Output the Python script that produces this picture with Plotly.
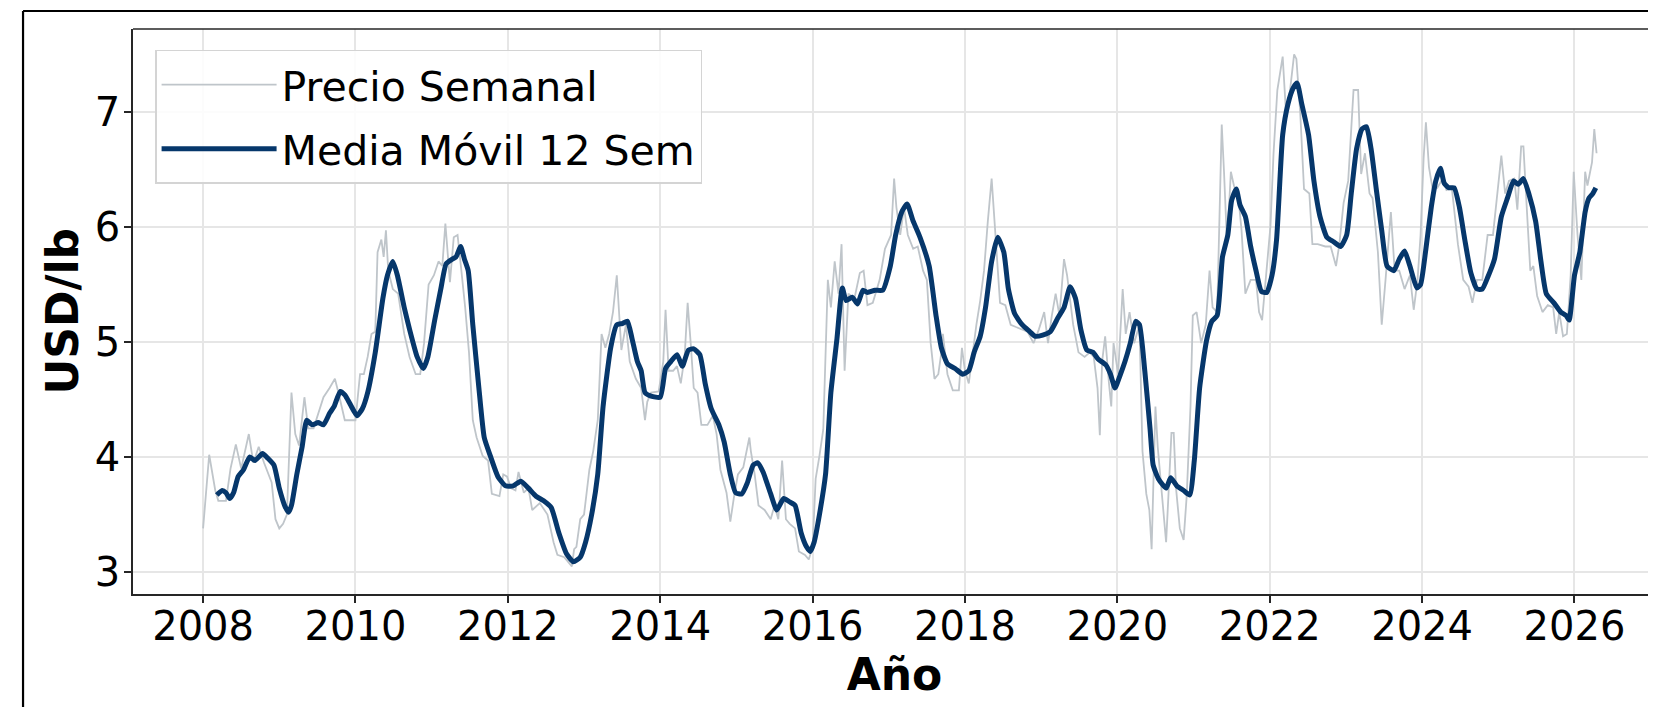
import plotly.graph_objects as go

# Weekly price (USD/lb), x in decimal years
price_year = [2008.00, 2008.08, 2008.16, 2008.20, 2008.30, 2008.36, 2008.43, 2008.50, 2008.60, 2008.66,
              2008.73, 2008.80, 2008.90, 2008.95, 2009.00, 2009.05, 2009.10, 2009.16, 2009.21, 2009.26,
              2009.33, 2009.38, 2009.45, 2009.58, 2009.66, 2009.73, 2009.78, 2009.86, 2010.00, 2010.06,
              2010.11, 2010.16, 2010.21, 2010.26, 2010.29, 2010.34, 2010.37, 2010.40, 2010.43, 2010.49,
              2010.56, 2010.64, 2010.71, 2010.79, 2010.85, 2010.90, 2010.96, 2011.03, 2011.09, 2011.14,
              2011.18, 2011.21, 2011.24, 2011.29, 2011.34, 2011.39, 2011.44, 2011.49, 2011.54, 2011.59,
              2011.67, 2011.74, 2011.79, 2011.89, 2011.94, 2011.99, 2012.04, 2012.10, 2012.14, 2012.21,
              2012.27, 2012.32, 2012.42, 2012.52, 2012.60, 2012.65, 2012.74, 2012.84, 2012.87, 2012.90,
              2012.95, 2013.00, 2013.07, 2013.12, 2013.18, 2013.23, 2013.28, 2013.33, 2013.38, 2013.43,
              2013.46, 2013.49, 2013.55, 2013.60, 2013.68, 2013.75, 2013.80, 2013.83, 2013.88, 2013.98,
              2014.04, 2014.07, 2014.11, 2014.17, 2014.22, 2014.27, 2014.32, 2014.36, 2014.40, 2014.44,
              2014.49, 2014.54, 2014.62, 2014.69, 2014.74, 2014.79, 2014.87, 2014.92, 2014.97, 2015.02,
              2015.09, 2015.17, 2015.19, 2015.24, 2015.29, 2015.37, 2015.45, 2015.50, 2015.55, 2015.60,
              2015.65, 2015.70, 2015.77, 2015.82, 2015.90, 2015.95, 2016.00, 2016.04, 2016.09, 2016.14,
              2016.20, 2016.24, 2016.29, 2016.34, 2016.38, 2016.42, 2016.47, 2016.55, 2016.62, 2016.67,
              2016.72, 2016.79, 2016.88, 2016.95, 2017.03, 2017.07, 2017.10, 2017.15, 2017.20, 2017.25,
              2017.32, 2017.38, 2017.45, 2017.50, 2017.55, 2017.60, 2017.65, 2017.69, 2017.71, 2017.77,
              2017.84, 2017.92, 2017.96, 2018.00, 2018.05, 2018.10, 2018.15, 2018.20, 2018.25, 2018.30,
              2018.35, 2018.40, 2018.46, 2018.53, 2018.60, 2018.67, 2018.75, 2018.82, 2018.90, 2018.97,
              2019.04, 2019.09, 2019.14, 2019.19, 2019.24, 2019.30, 2019.34, 2019.42, 2019.49, 2019.57,
              2019.64, 2019.69, 2019.74, 2019.77, 2019.80, 2019.84, 2019.89, 2019.92, 2019.95, 2020.01,
              2020.07, 2020.11, 2020.16, 2020.22, 2020.29, 2020.33, 2020.38, 2020.42, 2020.45, 2020.50,
              2020.53, 2020.58, 2020.64, 2020.67, 2020.71, 2020.74, 2020.77, 2020.82, 2020.87, 2020.91,
              2020.96, 2020.99, 2021.04, 2021.10, 2021.16, 2021.21, 2021.25, 2021.31, 2021.37, 2021.40,
              2021.44, 2021.49, 2021.53, 2021.59, 2021.63, 2021.68, 2021.75, 2021.82, 2021.86, 2021.90,
              2021.96, 2022.01, 2022.05, 2022.10, 2022.17, 2022.21, 2022.26, 2022.32, 2022.35, 2022.40,
              2022.45, 2022.52, 2022.56, 2022.63, 2022.73, 2022.80, 2022.87, 2022.91, 2022.97, 2023.03,
              2023.10, 2023.16, 2023.20, 2023.25, 2023.31, 2023.35, 2023.42, 2023.47, 2023.52, 2023.59,
              2023.64, 2023.70, 2023.77, 2023.84, 2023.89, 2023.94, 2023.98, 2024.02, 2024.05, 2024.09,
              2024.14, 2024.20, 2024.27, 2024.32, 2024.39, 2024.47, 2024.54, 2024.61, 2024.66, 2024.72,
              2024.79, 2024.86, 2024.93, 2024.98, 2025.04, 2025.09, 2025.14, 2025.21, 2025.25, 2025.30,
              2025.33, 2025.37, 2025.42, 2025.46, 2025.51, 2025.58, 2025.65, 2025.72, 2025.76, 2025.80,
              2025.85, 2025.90, 2025.95, 2025.99, 2026.04, 2026.09, 2026.14, 2026.17, 2026.23, 2026.26,
              2026.29]
price_usd = [3.38, 4.02, 3.71, 3.62, 3.62, 3.90, 4.11, 3.90, 4.20, 3.95,
             4.09, 3.95, 3.78, 3.46, 3.38, 3.42, 3.50, 4.56, 4.20, 4.10,
             4.52, 4.25, 4.25, 4.52, 4.60, 4.68, 4.55, 4.32, 4.32, 4.72,
             4.72, 4.87, 5.07, 5.09, 5.78, 5.89, 5.74, 5.97, 5.62, 5.46,
             5.42, 5.07, 4.87, 4.72, 4.72, 4.99, 5.50, 5.58, 5.70, 5.66,
             6.03, 5.78, 5.52, 5.91, 5.93, 5.62, 5.30, 4.91, 4.32, 4.17,
             4.01, 3.97, 3.68, 3.66, 3.85, 3.83, 3.73, 3.71, 3.87, 3.69,
             3.73, 3.54, 3.60, 3.50, 3.26, 3.15, 3.13, 3.05, 3.20, 3.22,
             3.46, 3.50, 3.89, 4.05, 4.32, 5.07, 4.95, 5.07, 5.26, 5.58,
             5.23, 4.93, 5.15, 4.83, 4.68, 4.60, 4.32, 4.48, 4.56, 4.57,
             4.83, 5.28, 4.75, 4.75, 4.79, 4.64, 4.87, 5.34, 4.99, 4.60,
             4.56, 4.28, 4.28, 4.36, 4.20, 3.89, 3.69, 3.44, 3.66, 3.85,
             3.91, 4.17, 4.05, 3.85, 3.58, 3.54, 3.46, 3.58, 3.46, 3.97,
             3.46, 3.42, 3.38, 3.18, 3.15, 3.11, 3.22, 3.81, 4.01, 4.24,
             5.54, 5.30, 5.70, 5.42, 5.85, 4.75, 5.42, 5.38, 5.60, 5.62,
             5.32, 5.34, 5.54, 5.81, 5.93, 6.42, 6.17, 5.93, 6.17, 5.93,
             5.81, 5.83, 5.62, 5.54, 4.99, 4.68, 4.72, 4.91, 5.07, 4.72,
             4.58, 4.58, 4.95, 4.75, 4.64, 4.91, 5.15, 5.36, 5.62, 6.05,
             6.42, 5.93, 5.34, 5.32, 5.15, 5.13, 5.11, 5.09, 4.99, 5.11,
             5.26, 4.99, 5.23, 5.42, 5.23, 5.72, 5.58, 5.15, 4.91, 4.87,
             4.91, 4.87, 4.60, 4.19, 4.83, 5.05, 4.64, 4.44, 4.99, 4.72,
             5.46, 5.07, 5.26, 4.99, 5.15, 4.05, 3.68, 3.54, 3.20, 4.44,
             4.09, 3.69, 3.26, 3.66, 4.21, 4.21, 3.73, 3.38, 3.28, 3.66,
             4.44, 5.23, 5.26, 4.99, 5.15, 5.62, 5.30, 5.26, 6.89, 6.48,
             5.85, 6.48, 6.36, 6.25, 5.97, 5.42, 5.54, 5.54, 5.26, 5.19,
             5.66, 6.01, 6.64, 7.19, 7.48, 7.03, 7.15, 7.50, 7.46, 7.00,
             6.33, 6.29, 5.85, 5.85, 5.83, 5.83, 5.66, 5.83, 6.21, 6.40,
             7.19, 7.19, 6.46, 6.64, 6.29, 6.25, 5.78, 5.15, 5.54, 6.13,
             5.62, 5.62, 5.46, 5.58, 5.28, 5.54, 5.93, 6.60, 6.91, 6.52,
             6.32, 6.34, 6.42, 6.32, 6.34, 5.85, 5.54, 5.48, 5.34, 5.54,
             5.54, 5.93, 5.93, 6.25, 6.62, 6.29, 6.40, 6.42, 6.15, 6.70,
             6.70, 6.21, 5.62, 5.66, 5.40, 5.26, 5.32, 5.30, 5.07, 5.26,
             5.05, 5.07, 5.58, 6.48, 5.93, 5.54, 6.48, 6.36, 6.56, 6.85,
             6.64]

# 12-week moving average
ma_year = [2008.18, 2008.25, 2008.30, 2008.35, 2008.40, 2008.46, 2008.53, 2008.61, 2008.68, 2008.78,
           2008.85, 2008.93, 2009.00, 2009.07, 2009.12, 2009.16, 2009.23, 2009.30, 2009.36, 2009.43,
           2009.51, 2009.58, 2009.66, 2009.72, 2009.80, 2009.86, 2009.93, 2010.02, 2010.09, 2010.16,
           2010.26, 2010.36, 2010.42, 2010.49, 2010.55, 2010.64, 2010.71, 2010.81, 2010.89, 2010.95,
           2011.04, 2011.12, 2011.19, 2011.27, 2011.32, 2011.38, 2011.43, 2011.48, 2011.54, 2011.62,
           2011.69, 2011.77, 2011.87, 2011.97, 2012.07, 2012.17, 2012.27, 2012.37, 2012.47, 2012.57,
           2012.67, 2012.77, 2012.86, 2012.95, 2013.02, 2013.10, 2013.18, 2013.25, 2013.35, 2013.43,
           2013.50, 2013.57, 2013.63, 2013.70, 2013.75, 2013.80, 2013.88, 2014.00, 2014.07, 2014.14,
           2014.22, 2014.29, 2014.37, 2014.44, 2014.52, 2014.59, 2014.67, 2014.77, 2014.84, 2014.92,
           2014.99, 2015.07, 2015.14, 2015.22, 2015.28, 2015.35, 2015.45, 2015.53, 2015.62, 2015.70,
           2015.77, 2015.85, 2015.92, 2015.97, 2016.02, 2016.09, 2016.17, 2016.24, 2016.32, 2016.39,
           2016.44, 2016.52, 2016.59, 2016.66, 2016.72, 2016.82, 2016.92, 2017.02, 2017.09, 2017.17,
           2017.24, 2017.32, 2017.41, 2017.53, 2017.62, 2017.69, 2017.77, 2017.87, 2017.97, 2018.05,
           2018.12, 2018.20, 2018.27, 2018.35, 2018.43, 2018.51, 2018.57, 2018.65, 2018.75, 2018.85,
           2018.92, 2019.02, 2019.12, 2019.22, 2019.30, 2019.38, 2019.45, 2019.52, 2019.60, 2019.68,
           2019.75, 2019.85, 2019.91, 2019.97, 2020.03, 2020.10, 2020.17, 2020.24, 2020.29, 2020.36,
           2020.43, 2020.47, 2020.54, 2020.64, 2020.70, 2020.78, 2020.87, 2020.95, 2021.01, 2021.08,
           2021.17, 2021.24, 2021.31, 2021.38, 2021.45, 2021.50, 2021.56, 2021.61, 2021.68, 2021.75,
           2021.82, 2021.89, 2021.96, 2022.03, 2022.09, 2022.17, 2022.24, 2022.31, 2022.36, 2022.42,
           2022.51, 2022.58, 2022.66, 2022.75, 2022.84, 2022.93, 2023.01, 2023.07, 2023.14, 2023.21,
           2023.27, 2023.33, 2023.40, 2023.47, 2023.54, 2023.63, 2023.70, 2023.77, 2023.84, 2023.93,
           2023.98, 2024.05, 2024.12, 2024.18, 2024.24, 2024.29, 2024.35, 2024.42, 2024.49, 2024.56,
           2024.64, 2024.72, 2024.79, 2024.86, 2024.95, 2025.04, 2025.12, 2025.20, 2025.26, 2025.33,
           2025.40, 2025.49, 2025.56, 2025.63, 2025.73, 2025.82, 2025.89, 2025.93, 2026.00, 2026.07,
           2026.14, 2026.19, 2026.24, 2026.28]
ma_usd = [3.67, 3.71, 3.69, 3.64, 3.69, 3.83, 3.89, 4.00, 3.97, 4.03,
          3.99, 3.93, 3.73, 3.58, 3.52, 3.58, 3.85, 4.09, 4.32, 4.28,
          4.30, 4.28, 4.38, 4.44, 4.57, 4.54, 4.46, 4.36, 4.42, 4.56,
          4.91, 5.38, 5.58, 5.70, 5.58, 5.30, 5.11, 4.87, 4.77, 4.87,
          5.19, 5.46, 5.68, 5.72, 5.74, 5.83, 5.72, 5.62, 5.15, 4.60,
          4.17, 4.01, 3.83, 3.75, 3.75, 3.79, 3.73, 3.66, 3.62, 3.56,
          3.34, 3.16, 3.09, 3.13, 3.26, 3.50, 3.85, 4.44, 4.95, 5.15,
          5.16, 5.18, 5.03, 4.83, 4.75, 4.56, 4.53, 4.52, 4.77, 4.83,
          4.89, 4.79, 4.93, 4.94, 4.89, 4.64, 4.42, 4.28, 4.13, 3.85,
          3.69, 3.68, 3.77, 3.93, 3.95, 3.87, 3.68, 3.54, 3.64, 3.61,
          3.58, 3.34, 3.22, 3.18, 3.26, 3.50, 3.85, 4.56, 5.03, 5.47,
          5.36, 5.39, 5.33, 5.45, 5.43, 5.45, 5.45, 5.66, 5.93, 6.13,
          6.20, 6.05, 5.91, 5.66, 5.23, 4.95, 4.81, 4.77, 4.72, 4.75,
          4.91, 5.05, 5.30, 5.70, 5.91, 5.78, 5.46, 5.25, 5.15, 5.09,
          5.05, 5.06, 5.09, 5.21, 5.30, 5.48, 5.38, 5.11, 4.93, 4.91,
          4.85, 4.80, 4.72, 4.60, 4.70, 4.83, 4.99, 5.18, 5.15, 4.75,
          4.24, 3.93, 3.81, 3.73, 3.82, 3.75, 3.71, 3.67, 3.97, 4.60,
          5.01, 5.18, 5.23, 5.74, 5.93, 6.23, 6.33, 6.19, 6.09, 5.83,
          5.62, 5.44, 5.43, 5.58, 5.89, 6.80, 7.07, 7.21, 7.25, 7.07,
          6.80, 6.40, 6.09, 5.91, 5.87, 5.83, 5.93, 6.29, 6.68, 6.85,
          6.87, 6.68, 6.32, 5.97, 5.66, 5.62, 5.72, 5.79, 5.66, 5.47,
          5.50, 5.81, 6.17, 6.40, 6.51, 6.38, 6.34, 6.34, 6.17, 5.89,
          5.60, 5.46, 5.46, 5.56, 5.72, 6.09, 6.25, 6.40, 6.37, 6.42,
          6.29, 6.05, 5.70, 5.42, 5.34, 5.26, 5.23, 5.19, 5.58, 5.78,
          6.13, 6.25, 6.29, 6.34]

x_ticks = [2008, 2010, 2012, 2014, 2016, 2018, 2020, 2022, 2024, 2026]
y_ticks = [3, 4, 5, 6, 7]

FONT = "DejaVu Sans"
AX = "#262626"

fig = go.Figure()
fig.add_trace(go.Scatter(x=price_year, y=price_usd, mode="lines", name="Precio Semanal",
                         legendgroup="a",
                         line=dict(color="#bfc5ca", width=1.8)))
fig.add_trace(go.Scatter(x=ma_year, y=ma_usd, mode="lines", name="Media Móvil 12 Sem",
                         legendgroup="b",
                         line=dict(color="#06376b", width=5, shape="spline", smoothing=0.5)))

axis_common = dict(
    showgrid=True, gridcolor="#e6e6e6", gridwidth=1.5,
    showline=True, linecolor=AX, linewidth=1.5,
    ticks="outside", ticklen=7, tickwidth=1.5, tickcolor=AX,
    tickfont=dict(family=FONT, size=40, color="black"),
    zeroline=False,
)

fig.update_layout(
    width=1648, height=699, autosize=False,
    margin=dict(l=125, r=0, t=21, b=113),
    plot_bgcolor="white", paper_bgcolor="white",
    font=dict(family=FONT, color="black"),
    xaxis=dict(range=[2007.08, 2027.07], tickmode="array", tickvals=x_ticks,
               ticktext=[str(v) for v in x_ticks], ticklabelstandoff=-11,
               title=dict(text="<b>Año</b>", font=dict(family=FONT, size=44, color="black"), standoff=7),
               automargin=False, **axis_common),
    yaxis=dict(range=[2.81, 7.72], tickmode="array", tickvals=y_ticks,
               ticktext=[str(v) for v in y_ticks], ticklabelstandoff=-4,
               automargin=False, **axis_common),
    legend=dict(x=0.0145, y=0.963, xanchor="left", yanchor="top",
                bgcolor="rgba(255,255,255,0.85)", bordercolor="#d4d4d4", borderwidth=1.5,
                font=dict(family=FONT, size=41, color="black"),
                tracegroupgap=8, itemwidth=115),
    showlegend=True,
    annotations=[
        dict(text="<b>USD/lb</b>", xref="paper", yref="paper", x=-0.0466, y=0.5,
             xanchor="center", yanchor="middle", textangle=-90, showarrow=False,
             font=dict(family=FONT, size=44, color="black")),
    ],
    shapes=[
        # top spine of the axes
        dict(type="line", xref="paper", yref="paper", x0=0, x1=1.02, y0=1, y1=1,
             line=dict(color=AX, width=1.5)),
        # outer figure frame (left and top edges)
        dict(type="line", xref="paper", yref="paper", x0=-0.0722, x1=-0.0722, y0=-0.3, y1=1.0319,
             line=dict(color="black", width=2.2)),
        dict(type="line", xref="paper", yref="paper", x0=-0.0722, x1=1.05, y0=1.0319, y1=1.0319,
             line=dict(color="black", width=2.2)),
    ],
)

fig.write_html("out.html")
